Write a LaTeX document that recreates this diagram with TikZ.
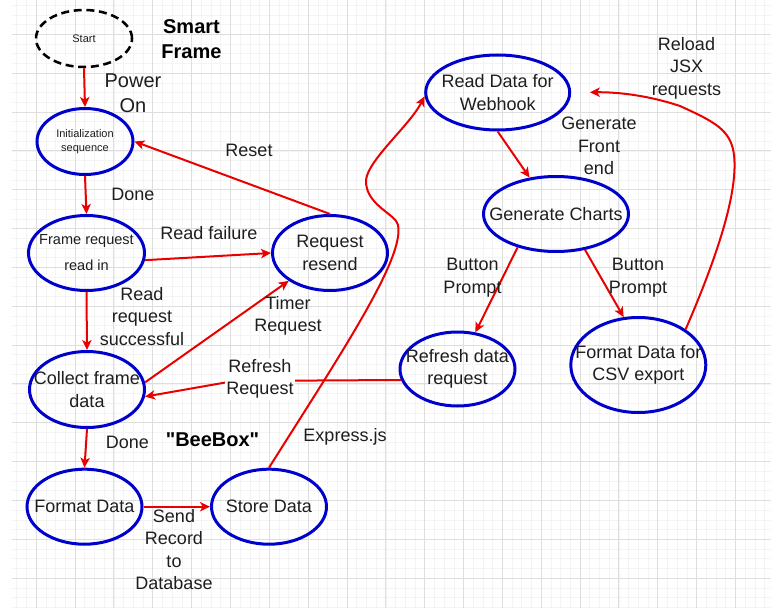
\documentclass[tikz,border=0pt]{standalone}
\usepackage{fontspec}
\setmainfont{Liberation Sans}
\newfontfamily\plainfont{Liberation Sans}
\usetikzlibrary{arrows.meta,shapes.geometric}
\definecolor{nodeblue}{RGB}{0,0,204}
\definecolor{edgered}{RGB}{235,0,0}
\definecolor{gridmaj}{RGB}{222,222,222}
\definecolor{gridmin}{RGB}{244,244,244}
\definecolor{txtc}{RGB}{30,30,30}
\begin{document}
\begin{tikzpicture}[x=0.75pt,y=-0.75pt,
  statenode/.style={draw=nodeblue, line width=2.25pt, ellipse, inner sep=0pt},
  startnode/.style={draw=black, line width=1.9pt, dash pattern=on 6pt off 3.5pt, ellipse, inner sep=0pt},
  sz/.style 2 args={minimum width=#1*0.75pt, minimum height=#2*0.75pt},
  flow/.style={draw=edgered, line width=1.5pt, -{Stealth[length=7.5pt,width=7pt,inset=2pt]}},
  lbl/.style={font=\fontsize{13.5pt}{16.9pt}\selectfont, align=center, text=txtc, inner sep=0pt},
  lblL/.style={font=\fontsize{15pt}{18.75pt}\selectfont, align=center, text=txtc, inner sep=0pt},
  lblB/.style={font=\fontsize{15pt}{18.75pt}\selectfont\bfseries, align=center, text=black, inner sep=0pt},
  lblS/.style={font=\fontsize{8.25pt}{10.5pt}\selectfont, align=center, text=txtc, inner sep=0pt},
  lblM/.style={font=\fontsize{10.9pt}{19.5pt}\selectfont, align=center, text=txtc, inner sep=0pt},
  minorgrid/.style={draw=gridmin, line width=0.5pt},
  majorgrid/.style={draw=gridmaj, line width=0.75pt}
]
\useasboundingbox (0,0) rectangle (771,610);
\fill[white] (0,0) rectangle (771,610);
\begin{scope}
\clip (12,0) rectangle (771,608);
\foreach \k in {-2,...,75} { \draw[minorgrid] ({36.2+9.7125*\k},0) -- ({36.2+9.7125*\k},608); }
\foreach \k in {0,...,63} { \draw[minorgrid] (12,{-4.55+9.7125*\k}) -- (771,{-4.55+9.7125*\k}); }
\foreach \k in {0,...,18} { \draw[majorgrid] ({36.2+38.85*\k},0) -- ({36.2+38.85*\k},608); }
\foreach \k in {0,...,14} { \draw[majorgrid] (12,{34.3+38.85*\k}) -- (771,{34.3+38.85*\k}); }
\end{scope}

% state nodes
\node[startnode, sz={96}{57}, label={[lblS]center:Start}] (start) at (84,38.5) {};
\node[statenode, sz={96}{66}, label={[lblS]center:{Initialization\\sequence}}] (init) at (85,141.5) {};
\node[statenode, sz={116}{75}, label={[lblM]center:{Frame request\\read in}}] (frame) at (86.5,253) {};
\node[statenode, sz={115}{75}, label={[lbl]center:{Request\\resend}}] (resend) at (330,253) {};
\node[statenode, sz={115}{76}, label={[lbl]center:{Collect frame\\data}}] (collect) at (87,389.5) {};
\node[statenode, sz={115}{75}, label={[lbl]center:{Format Data}}] (format) at (84.5,506.7) {};
\node[statenode, sz={115}{75}, label={[lbl]center:{Store Data}}] (store) at (269,506.7) {};
\node[statenode, sz={144}{75}, label={[lbl]center:{Read Data for\\Webhook}}] (webhook) at (497.7,92.5) {};
\node[statenode, sz={145}{75}, label={[lbl]center:{Generate Charts}}] (charts) at (556,214) {};
\node[statenode, sz={115}{74}, label={[lbl]center:{Refresh data\\request}}] (refresh) at (457.5,369) {};
\node[statenode, sz={135}{95}, label={[lbl]center:{Format Data for\\CSV export}}] (csv) at (638.3,365) {};

% connectors
\draw[flow] (start.south) -- (init.north);
\draw[flow] (init.south) -- (frame.north);
\draw[flow] (frame.south) -- (collect.north);
\draw[flow] (collect.south) -- (format.north);
\draw[flow] (format.east) -- (store.west);
\draw[flow] (frame.-7) -- (resend.west);
\draw[flow] (resend.north) -- (init.east);
\draw[flow] (collect.7) -- (resend.214);
\coordinate (rwp) at (234,381);
\draw[flow] (refresh.191) -- (rwp) -- (collect.-7);
\draw[flow] (webhook.south) -- (charts.126);
\draw[flow] (charts.221) -- (refresh.64);
\draw[flow] (charts.-51) -- (csv.107);
\draw[flow] (store.north) .. controls (340,355) and (405,258) .. (398,225)
  .. controls (396,214) and (365,205) .. (366,180)
  .. controls (368,160) and (410,125) .. (webhook.183);
\draw[flow, shorten >=14pt] (csv.37) .. controls (720,250) and (738,190) .. (734,155)
  .. controls (731,130) and (715,122) .. (680,106)
  .. controls (650,96) and (620,92) .. (webhook.east);

% labels
\node[lblB] (tSmart) at (191.5,39.5) {Smart\\Frame};
\node[lblL] (tPower) at (133,93.5) {Power\\On};
\node[lbl] (tReset) at (249,150) {Reset};
\node[lbl] (tDone1) at (133,194) {Done};
\node[lbl] (tFail) at (209,233.5) {Read failure};
\node[lbl] (tSucc) at (142,316.5) {Read\\request\\successful};
\node[lbl] (tTimer) at (288,316) {Timer\\Request};
\node[lbl, fill=white, inner sep=1pt] (tRefresh) at (260,379) {Refresh\\Request};
\node[lbl] (tDone2) at (127.5,442) {Done};
\node[lblB] (tBee) at (212.5,439.5) {\plainfont\bfseries "BeeBox"};
\node[lbl] (tExpress) at (345,437) {Express.js};
\node[lbl] (tSend) at (174,549.5) {Send\\Record\\to\\Database};
\node[lbl] (tReload) at (686.5,68) {Reload\\JSX\\requests};
\node[lbl] (tGen) at (599,146) {Generate\\Front\\end};
\node[lbl] (tBtnA) at (472.5,277.5) {Button\\Prompt};
\node[lbl] (tBtnB) at (638,277.5) {Button\\Prompt};
\end{tikzpicture}
\end{document}
